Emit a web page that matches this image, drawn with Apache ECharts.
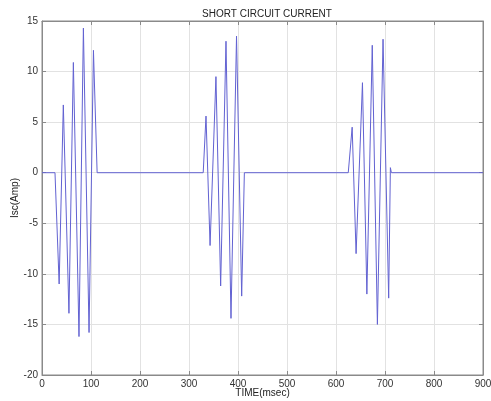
<!DOCTYPE html>
<html>
<head>
<meta charset="utf-8">
<script src="https://cdn.jsdelivr.net/npm/echarts@6/dist/echarts.min.js"></script>
<style>
  html, body { margin: 0; padding: 0; background: #fff; }
  #chart { width: 491px; height: 401px; }
</style>
</head>
<body>
<div id="chart"></div>
<script>
// Short-circuit current samples: time (ms) and current (A) at the turning points of each fault burst
const timeMs = [
  0, 26.5, 35, 43.5, 55, 64, 75.5, 84.5, 96, 105, 112.5,
  329, 334.7, 343, 355, 364.6, 375.5, 385.7, 397, 407.5, 413,
  625, 633, 641, 654, 663, 674, 684.5, 696, 707.5, 711, 713,
  900
];
const currentAmp = [
  0, 0, -11, 6.7, -13.9, 10.9, -16.2, 14.3, -15.8, 12.1, 0,
  0, 5.6, -7.2, 9.5, -11.2, 13.0, -14.4, 13.5, -12.2, 0,
  0, 4.5, -8.0, 8.9, -12.0, 12.6, -15.0, 13.2, -12.4, 0.5, 0,
  0
];

const xTicks = [0, 100, 200, 300, 400, 500, 600, 700, 800, 900];
const yTicks = [-20, -15, -10, -5, 0, 5, 10, 15];

const points = timeMs.map((t, i) => [t, currentAmp[i]]);
const font = 'Liberation Sans, Arial, sans-serif';
const frame = '#8a8a8a';

// Axis shared settings; the mirrored top/right axes only carry inward ticks (boxed plot)
function xAxisBase(pos, labels) {
  return {
    type: 'value', position: pos,
    min: xTicks[0], max: xTicks[xTicks.length - 1], interval: 100,
    axisLine: { show: true, onZero: false, lineStyle: { color: frame } },
    axisTick: { show: true, inside: true, length: 4, lineStyle: { color: frame } },
    axisLabel: { show: labels, fontFamily: font, fontSize: 10, color: '#333', margin: 4 },
    splitLine: { show: labels, lineStyle: { color: '#e2e2e2', width: 1 } }
  };
}
function yAxisBase(pos, labels) {
  return {
    type: 'value', position: pos,
    min: yTicks[0], max: yTicks[yTicks.length - 1], interval: 5,
    axisLine: { show: true, onZero: false, lineStyle: { color: frame } },
    axisTick: { show: true, inside: true, length: 4, lineStyle: { color: frame } },
    axisLabel: { show: labels, fontFamily: font, fontSize: 10, color: '#333', margin: 4 },
    splitLine: { show: labels, lineStyle: { color: '#e2e2e2', width: 1 } }
  };
}

const xBottom = Object.assign(xAxisBase('bottom', true), {
  name: 'TIME(msec)', nameLocation: 'middle', nameGap: 13, nameMoveOverlap: false,
  nameTextStyle: { fontFamily: font, fontSize: 10, color: '#222' }
});
const yLeft = Object.assign(yAxisBase('left', true), {
  name: 'Isc(Amp)', nameLocation: 'middle', nameGap: 22, nameMoveOverlap: false,
  nameTextStyle: { fontFamily: font, fontSize: 10, color: '#222' }
});

const chart = echarts.init(document.getElementById('chart'), null, { renderer: 'canvas' });
chart.setOption({
  animation: false,
  backgroundColor: '#ffffff',
  title: {
    text: 'SHORT CIRCUIT CURRENT',
    left: 262, top: 4, textAlign: 'center',
    textStyle: { fontFamily: font, fontSize: 10, fontWeight: 'normal', color: '#222' }
  },
  grid: {
    left: 42, right: 8, top: 21, bottom: 26,
    containLabel: false, outerBoundsMode: 'none',
    show: true, borderColor: frame, borderWidth: 1, backgroundColor: '#fff'
  },
  xAxis: [xBottom, xAxisBase('top', false)],
  yAxis: [yLeft, yAxisBase('right', false)],
  series: [{
    type: 'line',
    data: points,
    showSymbol: false,
    lineStyle: { color: '#6262d2', width: 1 },
    z: 3
  }]
});
</script>
</body>
</html>
